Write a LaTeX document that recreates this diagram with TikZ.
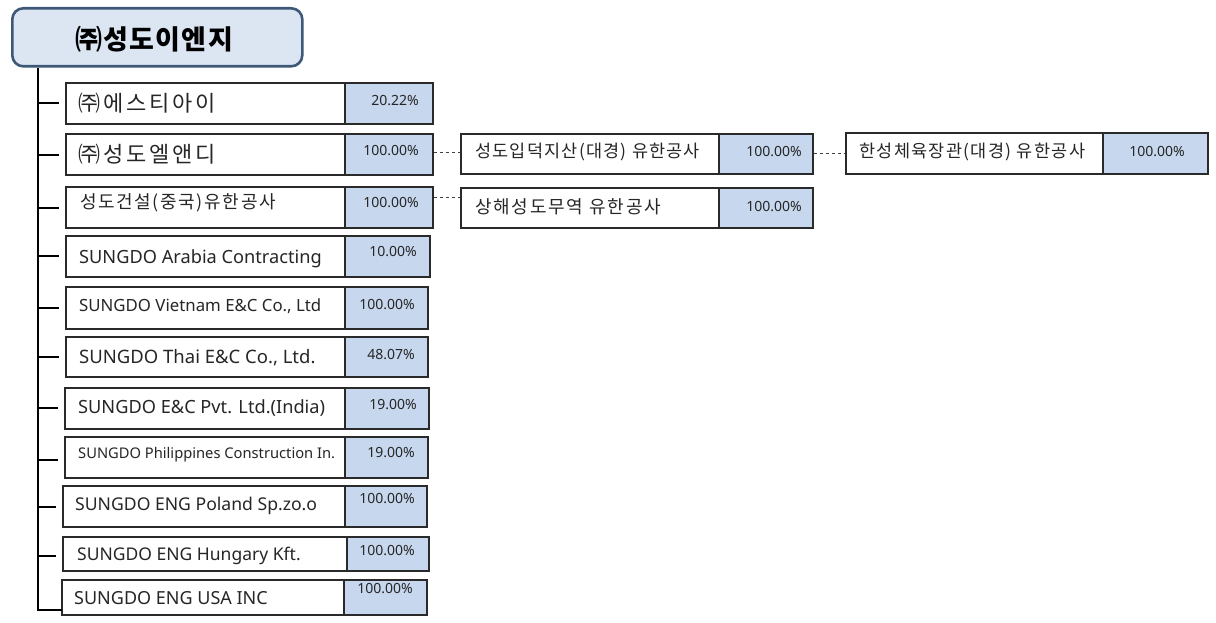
\documentclass[tikz,border=0pt]{standalone}
\usepackage{fontspec}
\setmainfont{Noto Sans}
\newfontfamily\kr{Noto Sans CJK KR}
\usetikzlibrary{fit}
\definecolor{hdrfill}{HTML}{DCE6F3}
\definecolor{hdrline}{HTML}{3E5878}
\definecolor{pctfill}{HTML}{C6D7EE}
\definecolor{boxline}{HTML}{2A2A2A}
\newcommand{\krs}[2]{\kr\fontsize{#1}{#1}\selectfont\addfontfeature{LetterSpace=#2}}
\tikzset{
  namebox/.style={draw=boxline, line width=1.8pt, fill=white, inner sep=0pt},
  pctbox/.style={draw=boxline, line width=1.8pt, fill=pctfill, inner sep=0pt},
  lbl/.style={anchor=base west, inner sep=0pt, text=black!85},
  klbl/.style={anchor=west, inner sep=0pt, text=black!85},
  pct/.style={anchor=east, inner sep=0pt, font=\fontsize{14}{14}\selectfont, text=black!85},
  stub/.style={line width=1.2pt, black},
  dashlink/.style={line width=0.9pt, black!75, dash pattern=on 3.5pt off 2.5pt}
}
\newcommand{\orgbox}[6]{%
  \node[namebox, fit={(#2,#3) (#4,#6)}] (#1) {};
  \node[pctbox, fit={(#4,#3) (#5,#6)}] (#1p) {};
}
\begin{document}
\begin{tikzpicture}[x=1pt,y=-1pt]
\useasboundingbox (0,0) rectangle (1216,623);
% header
\node[draw=hdrline, line width=2.6pt, fill=hdrfill, rounded corners=11pt,
      minimum width=290pt, minimum height=58pt, anchor=north west, inner sep=0pt] (hdr) at (11,7) {};
\node[inner sep=0pt, font=\krs{27}{5}\bfseries] (hdrt) at (154,39) {㈜성도이엔지};
% trunk
\coordinate (trunkTop) at (38,65);
\coordinate (trunkBot) at (38,611);
\draw[stub] (hdr.south -| trunkTop) -- (trunkBot);

% rows
\orgbox{r1}{66}{83}{345}{433}{124}
\orgbox{r2}{66}{134}{345}{433}{175}
\orgbox{r3}{66}{187}{345}{433}{228}
\orgbox{r4}{66}{236}{345}{430}{277}
\orgbox{r5}{66}{287}{345}{428}{329}
\orgbox{r6}{66}{337}{345}{428}{377}
\orgbox{r7}{65}{388}{345}{429}{429}
\orgbox{r8}{65}{437}{345}{428}{478}
\orgbox{r9}{63}{486}{345}{427}{527}
\orgbox{r10}{63}{537}{347}{429}{571}
\orgbox{r11}{62}{580}{344}{427}{615}

% stubs
\foreach \r/\y in {r1/103,r2/155,r3/208,r4/256,r5/308,r6/357,r7/408,r8/460,r9/507,r10/556} {
  \coordinate (\r s) at (38,\y);
  \draw[stub] (\r s) -- ([xshift=-6pt]\r.west |- \r s);
}
\coordinate (r11s) at (38,610);
\draw[stub] (r11s) -- (62,610);

% labels
\node[klbl, font=\krs{22}{13}] (r1t) at (78,103) {㈜에스티아이};
\node[klbl, font=\krs{22}{13}] (r2t) at (78,154) {㈜성도엘앤디};
\node[klbl, font=\krs{18}{9}] (r3t) at (80,203) {성도건설(중국)유한공사};
\node[lbl, font=\fontsize{18.2}{18}\selectfont] (r4t) at (79,263) {SUNGDO Arabia Contracting};
\node[lbl, font=\fontsize{16.8}{17}\selectfont] (r5t) at (79,311) {SUNGDO Vietnam E\&C Co., Ltd};
\node[lbl, font=\fontsize{18.5}{18}\selectfont] (r6t) at (79,363) {SUNGDO Thai E\&C Co., Ltd.};
\node[lbl, font=\fontsize{18.2}{18}\selectfont] (r7t) at (78,413) {SUNGDO E\&C Pvt. Ltd.(India)};
\node[lbl, font=\fontsize{14.7}{14}\selectfont] (r8t) at (78,458) {SUNGDO Philippines Construction In.};
\node[lbl, font=\fontsize{17.6}{18}\selectfont] (r9t) at (75,510) {SUNGDO ENG Poland Sp.zo.o};
\node[lbl, font=\fontsize{17.5}{18}\selectfont] (r10t) at (77,560) {SUNGDO ENG Hungary Kft.};
\node[lbl, font=\fontsize{18}{18}\selectfont] (r11t) at (74,604) {SUNGDO ENG USA INC};

% percentages
\node[pct] (r1v) at (419,101) {20.22\%};
\node[pct] (r2v) at (419,151) {100.00\%};
\node[pct] (r3v) at (419,203) {100.00\%};
\node[pct] (r4v) at (417,252) {10.00\%};
\node[pct] (r5v) at (415,305) {100.00\%};
\node[pct] (r6v) at (415,355) {48.07\%};
\node[pct] (r7v) at (417,405) {19.00\%};
\node[pct] (r8v) at (415,453) {19.00\%};
\node[pct] (r9v) at (415,499) {100.00\%};
\node[pct] (r10v) at (415,551) {100.00\%};
\node[pct] (r11v) at (413,589) {100.00\%};

% second level
\orgbox{a}{461}{134}{719}{813}{174}
\orgbox{b}{461}{188}{719}{813}{228}
\orgbox{c}{846}{133}{1103}{1208}{174}
\node[klbl, font=\krs{17.5}{7}] (at) at (475,152) {성도입덕지산(대경) 유한공사};
\node[klbl, font=\krs{18}{10}] (bt) at (475,207) {상해성도무역 유한공사};
\node[klbl, font=\krs{17.5}{7.5}] (ct) at (859,152) {한성체육장관(대경) 유한공사};
\node[pct] (av) at (802,152) {100.00\%};
\node[pct] (bv) at (802,207) {100.00\%};
\node[pct] (cv) at (1185,152) {100.00\%};

% dashed links
\draw[dashlink] ([yshift=2pt]r2p.east) -- ([yshift=2pt]r2p.east -| a.west);
\draw[dashlink] ([yshift=10pt]r3p.east) -- ([yshift=10pt]r3p.east -| b.west);
\draw[dashlink] ([yshift=1pt]ap.east) -- ([yshift=1pt]ap.east -| c.west);
\end{tikzpicture}
\end{document}
